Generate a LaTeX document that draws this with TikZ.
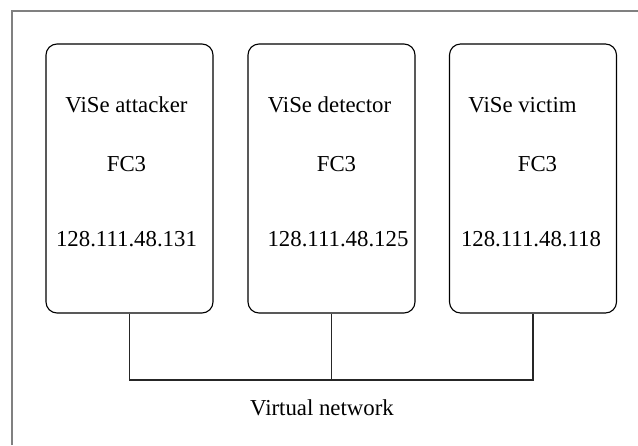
\documentclass[tikz,border=0pt]{standalone}
\usepackage{fontspec}
\setmainfont{Liberation Serif}
\newfontfamily\timesfont{Liberation Serif}
\begin{document}
\begin{tikzpicture}[x=1pt,y=-1pt,
  hostbox/.style={draw=black, line width=1.1pt, rounded corners=11pt,
    minimum width=167pt, minimum height=269pt, inner sep=0pt},
  lbl/.style={anchor=base, inner sep=0pt, font=\timesfont\fontsize{22.8}{26}\selectfont},
  wire/.style={draw=black!85, line width=1.1pt},
  frame/.style={draw=black!50, line width=1.6pt}]
\useasboundingbox (0,0) rectangle (638,445);
% partial outer frame (left and top edges)
\draw[frame] (12,445) -- (12,11) -- (638,11);
% host boxes
\node[hostbox] (b1) at (129.5,178.5) {};
\node[hostbox] (b2) at (331.5,178.5) {};
\node[hostbox] (b3) at (533,178.5) {};
% host labels
\node[lbl] (n1) at (126.5,112) {ViSe attacker};
\node[lbl] (f1) at (126.5,171) {FC3};
\node[lbl] (a1) at (126.5,246) {128.111.48.131};
\node[lbl] (n2) at (329.5,112) {ViSe detector};
\node[lbl] (f2) at (336.5,171) {FC3};
\node[lbl] (a2) at (338,246) {128.111.48.125};
\node[lbl] (n3) at (522.5,112) {ViSe victim};
\node[lbl] (f3) at (537.5,171) {FC3};
\node[lbl] (a3) at (531,246) {128.111.48.118};
% network bus
\coordinate (bus) at (0,380);
\draw[wire] (b1.south) -- (b1.south |- bus) -- (b3.south |- bus) -- (b3.south);
\draw[wire] (b2.south) -- (b2.south |- bus);
\node[lbl] (net) at (322,415) {Virtual network};
\end{tikzpicture}
\end{document}
